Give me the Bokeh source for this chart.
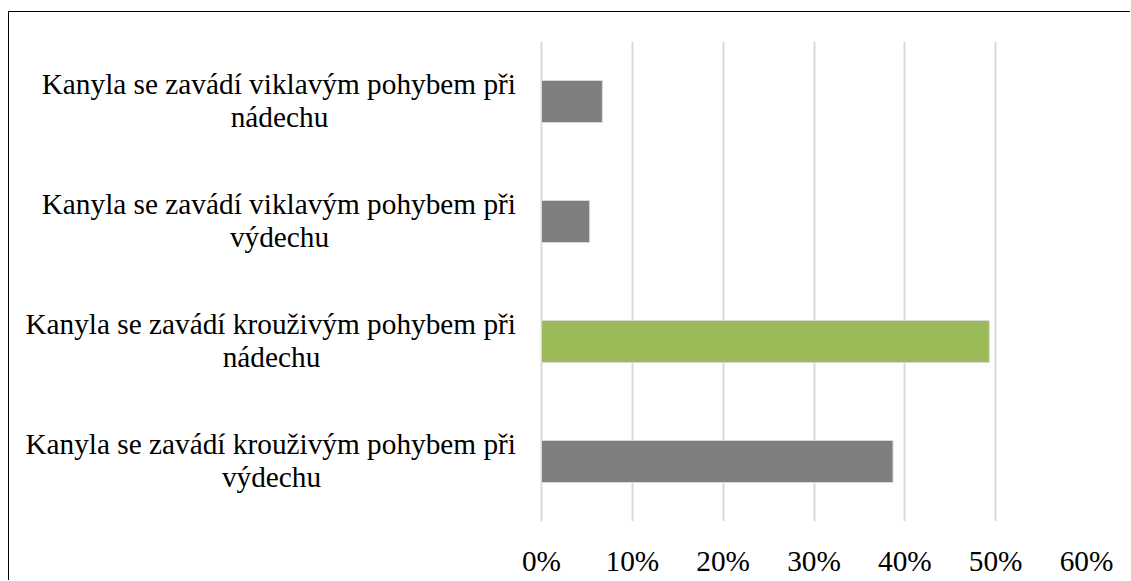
from bokeh.plotting import figure
from bokeh.models import FactorRange, NumeralTickFormatter, FixedTicker, ColumnDataSource, LabelSet
from bokeh.embed import file_html
from bokeh.resources import INLINE

# Data (bottom to top)
categories = [
    "Kanyla se zavádí krouživým pohybem při výdechu",
    "Kanyla se zavádí krouživým pohybem při nádechu",
    "Kanyla se zavádí viklavým pohybem při výdechu",
    "Kanyla se zavádí viklavým pohybem při nádechu",
]
label_line1 = [
    "Kanyla se zavádí krouživým pohybem při",
    "Kanyla se zavádí krouživým pohybem při",
    "Kanyla se zavádí viklavým pohybem při",
    "Kanyla se zavádí viklavým pohybem při",
]
label_line2 = ["výdechu", "nádechu", "výdechu", "nádechu"]
values = [0.387, 0.493, 0.053, 0.067]
colors = ["#7F7F7F", "#9BBB59", "#7F7F7F", "#7F7F7F"]
x_ticks = [0, 0.1, 0.2, 0.3, 0.4, 0.5, 0.6]

# layout (screen px from the left edge of the plot frame)
LINE1_RIGHT = 506.5
line2_centres = [262, 262, 270, 270]
X_START = -0.5857   # frame extends left of 0 so that the category labels sit inside it

FONT = "Liberation Serif"

source = ColumnDataSource(dict(cat=categories, val=values, color=colors,
                               l1=label_line1, l2=label_line2,
                               x1=[LINE1_RIGHT] * 4, x2=line2_centres))

p = figure(
    width=1122, height=569,
    y_range=FactorRange(*categories),
    x_range=(X_START, 0.6),
    output_backend="svg", toolbar_location=None,
    min_border_left=0, min_border_right=45,
    min_border_top=29, min_border_bottom=60,
)
p.styles = {"border-top": "1px solid black", "border-left": "1px solid black",
            "margin-top": "11px", "margin-left": "8px"}
p.outline_line_color = None

p.hbar(y="cat", right="val", left=0, height=0.35, fill_color="color",
       line_color="#D9D9D9", line_width=1, source=source)

lab1 = LabelSet(x="x1", y="cat", text="l1", x_units="screen", source=source,
                text_align="right", text_baseline="alphabetic",
                text_font=FONT, text_font_size="29.3px", text_color="#000000",
                y_offset=8)
lab2 = LabelSet(x="x2", y="cat", text="l2", x_units="screen", source=source,
                text_align="center", text_baseline="alphabetic",
                text_font=FONT, text_font_size="29.3px", text_color="#000000",
                y_offset=-25)
p.add_layout(lab1)
p.add_layout(lab2)

p.xaxis.ticker = FixedTicker(ticks=x_ticks)
p.xaxis.formatter = NumeralTickFormatter(format="0%")
p.xaxis.axis_line_color = None
p.xaxis.major_tick_line_color = None
p.xaxis.minor_tick_line_color = None
p.xaxis.major_label_text_font = FONT
p.xaxis.major_label_text_font_size = "29.3px"
p.xaxis.major_label_text_color = "#000000"
p.xaxis.major_label_standoff = 17

p.yaxis.visible = False

p.xgrid.grid_line_color = "#D9D9D9"
p.xgrid.grid_line_width = 2
p.xgrid.ticker = FixedTicker(ticks=x_ticks)
p.ygrid.grid_line_color = None

open("out.html", "w").write(file_html(p, INLINE))
